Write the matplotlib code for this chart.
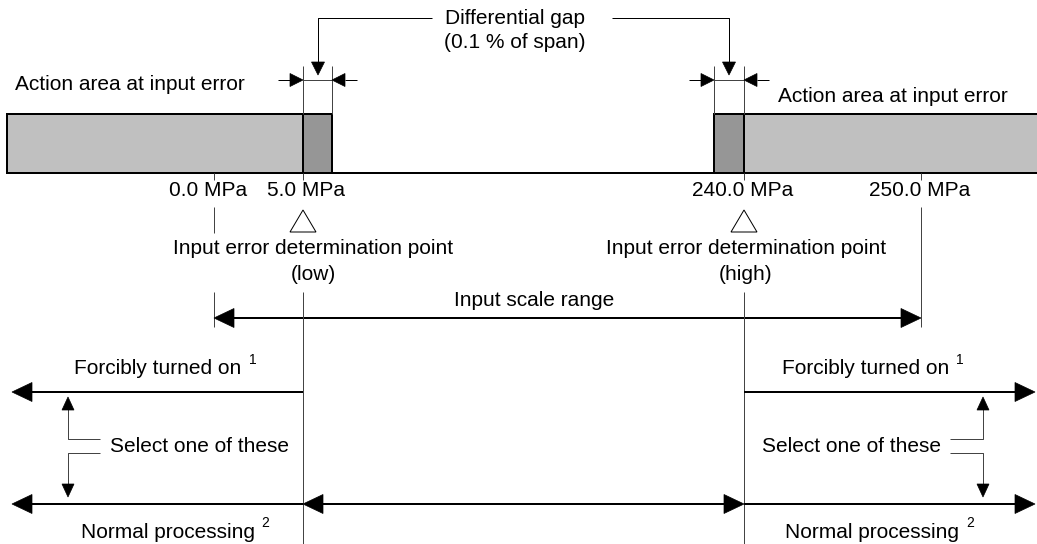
import matplotlib
matplotlib.use("Agg")
import matplotlib.pyplot as plt
from matplotlib.patches import Rectangle, Polygon

plt.rcParams['font.family'] = ['Liberation Sans', 'DejaVu Sans']

# ---- diagram data (pixel layout of a schematic) ----
scale_labels = ["0.0 MPa", "5.0 MPa", "240.0 MPa", "250.0 MPa"]
scale_x = [214, 303, 744, 921]          # positions of the scale points
label_x = [208, 306, 743, 920]          # label centres
gap_low = [303, 332]                    # differential gap, low side
gap_high = [714, 744]                   # differential gap, high side
edge = [7, 1035]
bar_y = [114, 173]
action_texts = ["Action area at input error", "Action area at input error"]
light_gray = "#c0c0c0"
dark_gray = "#969696"

fig = plt.figure(figsize=(10.37, 5.44), dpi=100)
ax = fig.add_axes([0, 0, 1, 1])
ax.set_xlim(0, 1037)
ax.set_ylim(544, 0)
ax.axis("off")

FS = 15
SFS = 10
PX = 0.72  # points per pixel


def head(tx, ty, d, L=20, W=19):
    # filled triangle arrow head with tip at (tx,ty), direction d
    if d == "l":
        pts = [(tx, ty), (tx + L, ty - W / 2), (tx + L, ty + W / 2)]
    elif d == "r":
        pts = [(tx, ty), (tx - L, ty - W / 2), (tx - L, ty + W / 2)]
    elif d == "u":
        pts = [(tx, ty), (tx - W / 2, ty + L), (tx + W / 2, ty + L)]
    else:
        pts = [(tx, ty), (tx - W / 2, ty - L), (tx + W / 2, ty - L)]
    ax.add_patch(Polygon(pts, closed=True, facecolor="black", edgecolor="black", lw=0.5, zorder=5))


def line(xs, ys, lw=1.0, color="black"):
    ax.plot(xs, ys, color=color, lw=lw * PX, solid_capstyle="butt", zorder=3)


# ---- bars ----
ax.add_patch(Rectangle((edge[0], bar_y[0]), gap_low[0] - edge[0], bar_y[1] - bar_y[0],
                       facecolor=light_gray, edgecolor="black", lw=2 * PX, zorder=2))
ax.add_patch(Rectangle((gap_low[0], bar_y[0]), gap_low[1] - gap_low[0], bar_y[1] - bar_y[0],
                       facecolor=dark_gray, edgecolor="black", lw=2 * PX, zorder=2))
ax.add_patch(Rectangle((gap_high[0], bar_y[0]), gap_high[1] - gap_high[0], bar_y[1] - bar_y[0],
                       facecolor=dark_gray, edgecolor="black", lw=2 * PX, zorder=2))
ax.add_patch(Rectangle((gap_high[1], bar_y[0]), edge[1] + 10 - gap_high[1], bar_y[1] - bar_y[0],
                       facecolor=light_gray, edgecolor="black", lw=2 * PX, zorder=2))
line([edge[0], 1037], [bar_y[1], bar_y[1]], lw=2)

# ticks under baseline
for x in scale_x:
    line([x, x], [bar_y[1], 180], lw=1, color="#444444")

# ---- differential gap markers ----
for g in (gap_low, gap_high):
    for x in g:
        line([x, x], [66, bar_y[0]], lw=1, color="#444444")
    line([g[0], g[1]], [80, 80], lw=1, color="#444444")
    line([g[0] - 25, g[0] - 13], [80, 80], lw=1)
    head(g[0], 80, "r", L=13, W=13)
    line([g[1] + 13, g[1] + 25], [80, 80], lw=1)
    head(g[1], 80, "l", L=13, W=13)

# connectors to "Differential gap"
cl = (gap_low[0] + gap_low[1]) / 2 + 0.5
ch = (gap_high[0] + gap_high[1]) / 2
line([432, cl, cl], [18, 18, 62], lw=1)
head(cl, 75, "d", L=13, W=13)
line([612, ch, ch], [18, 18, 62], lw=1)
head(ch, 75, "d", L=13, W=13)
ax.text(515, 18, "Differential gap", ha="center", va="center", fontsize=FS)
ax.text(515, 42, "(0.1 % of span)", ha="center", va="center", fontsize=FS)

ax.text(15, 84, action_texts[0], ha="left", va="center", fontsize=FS)
ax.text(778, 97, action_texts[1], ha="left", va="center", fontsize=FS)

# ---- scale labels ----
for lab, lx in zip(scale_labels, label_x):
    ax.text(lx, 190, lab, ha="center", va="center", fontsize=FS)

line([scale_x[0], scale_x[0]], [207, 233], lw=1, color="#444444")
for x in (scale_x[1], scale_x[2]):
    ax.add_patch(Polygon([(x, 210), (x - 13, 232), (x + 13, 232)], closed=True,
                         facecolor="white", edgecolor="black", lw=1 * PX, zorder=4))

ax.text(313, 248, "Input error determination point", ha="center", va="center", fontsize=FS)
ax.text(313, 275, "(low)", ha="center", va="center", fontsize=FS)
ax.text(746, 248, "Input error determination point", ha="center", va="center", fontsize=FS)
ax.text(746, 275, "(high)", ha="center", va="center", fontsize=FS)

# ---- input scale range ----
line([scale_x[0], scale_x[0]], [292, 327], lw=1, color="#444444")
line([scale_x[3], scale_x[3]], [207, 327], lw=1, color="#444444")
line([scale_x[0] + 18, scale_x[3] - 18], [318, 318], lw=2)
head(scale_x[0], 318, "l")
head(scale_x[3], 318, "r")
ax.text(534, 300, "Input scale range", ha="center", va="center", fontsize=FS)

# vertical division lines
line([scale_x[1], scale_x[1]], [292, 544], lw=1, color="#444444")
line([scale_x[2], scale_x[2]], [292, 544], lw=1, color="#444444")

# ---- action rows ----
y_on, y_norm = 392, 504
# left
line([scale_x[1], edge[0] + 20], [y_on, y_on], lw=2)
head(12, y_on, "l")
line([scale_x[1], edge[0] + 20], [y_norm, y_norm], lw=2)
head(12, y_norm, "l")
# middle
line([scale_x[1] + 18, scale_x[2] - 18], [y_norm, y_norm], lw=2)
head(scale_x[1], y_norm, "l")
head(scale_x[2], y_norm, "r")
# right
line([scale_x[2], edge[1] - 18], [y_on, y_on], lw=2)
head(edge[1], y_on, "r")
line([scale_x[2], edge[1] - 18], [y_norm, y_norm], lw=2)
head(edge[1], y_norm, "r")

ax.text(158, 368, "Forcibly turned on", ha="center", va="center", fontsize=FS)
ax.text(253, 360, "1", ha="center", va="center", fontsize=SFS)
ax.text(866, 368, "Forcibly turned on", ha="center", va="center", fontsize=FS)
ax.text(960, 360, "1", ha="center", va="center", fontsize=SFS)
ax.text(168, 533, "Normal processing", ha="center", va="center", fontsize=FS)
ax.text(265, 523, "2", ha="center", va="center", fontsize=SFS)
ax.text(872, 533, "Normal processing", ha="center", va="center", fontsize=FS)
ax.text(970, 523, "2", ha="center", va="center", fontsize=SFS)

# select one of these
for xa, xb, xt, ha in ((68, 100, 110, "left"), (983, 950, 941, "right")):
    line([xb, xa, xa], [439, 439, 408], lw=1, color="#444444")
    head(xa, 397, "u", L=13, W=12)
    line([xb, xa, xa], [453, 453, 486], lw=1, color="#444444")
    head(xa, 497, "d", L=13, W=12)
    ax.text(xt, 446, "Select one of these", ha=ha, va="center", fontsize=FS)

fig.savefig("out.png", dpi=100)
